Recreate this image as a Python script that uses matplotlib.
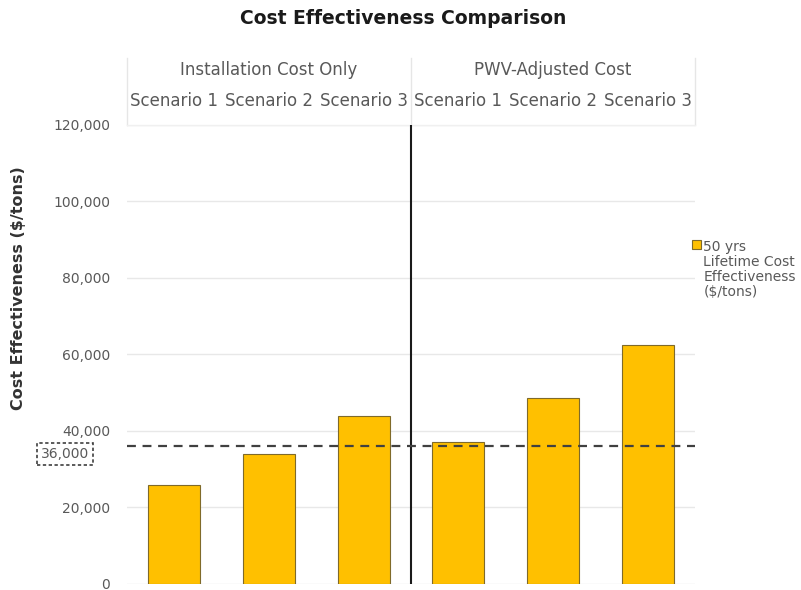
import numpy as np
import matplotlib
matplotlib.use("Agg")
import matplotlib.pyplot as plt
from matplotlib.patches import Patch
from matplotlib.transforms import blended_transform_factory

# data
groups = ["Installation Cost Only", "PWV-Adjusted Cost"]
scenarios = ["Scenario 1", "Scenario 2", "Scenario 3"]
values = [25900, 34000, 43900, 37100, 48600, 62500]
threshold = 36000
series_label = "50 yrs\nLifetime Cost\nEffectiveness\n($/tons)"
yticks = [0, 20000, 40000, 60000, 80000, 100000, 120000]

text_gray = "#595959"
bar_color = "#FFC000"

fig = plt.figure(figsize=(8.01, 5.90), dpi=100)
ax = fig.add_axes([0.1586, 0.0102, 0.7091, 0.778])

x = np.arange(len(values))
ax.bar(x, values, width=0.55, color=bar_color, edgecolor="#7f6a2a", linewidth=0.8,
       zorder=3, label=series_label)

ax.set_xlim(-0.5, len(values) - 0.5)
ax.set_ylim(0, 120000)
ax.set_yticks(yticks)
ax.set_yticklabels([f"{v:,}" for v in yticks], fontsize=10, color=text_gray)
ax.tick_params(axis="y", length=0, pad=12)
ax.set_xticks([])
ax.grid(axis="y", color="#e8e8e8", linewidth=1, zorder=0)
for s in ax.spines.values():
    s.set_visible(False)

# group separator
ax.axvline(2.5, color="#1a1a1a", linewidth=1.5, zorder=4)

# threshold line and its label
ax.axhline(threshold, color="#404040", linewidth=1.6, dashes=(4, 3), zorder=5)
tr = blended_transform_factory(ax.transAxes, ax.transData)
ax.text(-0.109, threshold - 2100, f"{threshold:,}", transform=tr, ha="center", va="center",
        fontsize=10, color=text_gray,
        bbox=dict(boxstyle="square,pad=0.3", facecolor="white", edgecolor="#404040",
                  linestyle=(0, (2, 1.5)), linewidth=1.2))

# header: group labels and scenario labels above the plot
trx = blended_transform_factory(ax.transData, ax.transAxes)
for i, s in enumerate(scenarios * len(groups)):
    ax.text(i, 1.052, s, transform=trx, ha="center", va="center", fontsize=12,
            color=text_gray, clip_on=False)
for g, name in enumerate(groups):
    ax.text(g * 3 + 1, 1.12, name, transform=trx, ha="center", va="center", fontsize=12,
            color=text_gray, clip_on=False)
for xv in [-0.5, 2.5, 5.5]:
    ax.plot([xv, xv], [1.0, 1.146], transform=trx, color="#e6e6e6", linewidth=1,
            clip_on=False)
ax.plot([-0.5, 5.5], [1.0, 1.0], transform=trx, color="#f0f0f0", linewidth=1, clip_on=False)

ax.set_ylabel("Cost Effectiveness ($/tons)", fontsize=11.5, fontweight="bold", color="#333333")
ax.yaxis.set_label_coords(-0.178, 0.645)

fig.suptitle("Cost Effectiveness Comparison", fontsize=13.5, fontweight="bold",
             color="#1a1a1a", x=0.503, y=0.985)

leg = ax.legend(handles=[Patch(facecolor=bar_color, edgecolor="#7f6a2a", linewidth=0.8)],
                labels=[series_label], loc="upper left", bbox_to_anchor=(0.995, 0.75),
                frameon=False, fontsize=10, handlelength=0.6, handleheight=0.6,
                handletextpad=0.2, borderpad=0, borderaxespad=0, labelspacing=0)
for t in leg.get_texts():
    t.set_color(text_gray)
    t.set_linespacing(1.1)
# put the marker next to the first line
for box in leg._legend_handle_box.get_children():
    for hp in box.get_children():
        hp.align = "top"

fig.savefig("out.png", dpi=100)
